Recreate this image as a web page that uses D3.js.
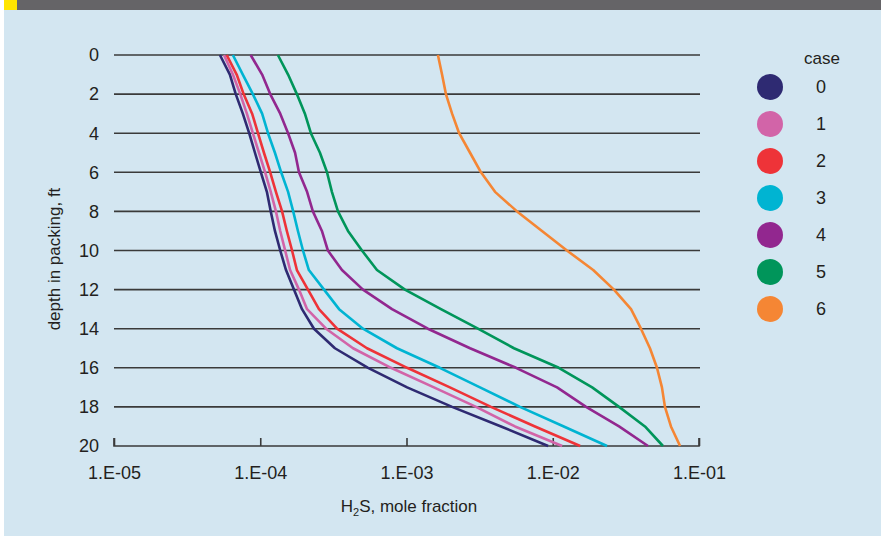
<!DOCTYPE html>
<html lang="en">
  <head>
    <meta charset="UTF-8" />
    <title>H2S in packing</title>
    <script src="https://d3js.org/d3.v7.min.js"></script>
    <style>
      body { margin: 0; background: #ffffff; }
      svg { display: block; font-family: 'Liberation Sans', Arial, sans-serif; }
      .lbl { fill: #231f20; font-size: 18px; }
    </style>
  </head>
  <body>
    <div id="chart"></div>

    <script>
      // depth in packing, ft
      const depths = [0, 1, 2, 3, 4, 5, 6, 7, 8, 9, 10, 11, 12, 13, 14, 15, 16, 17, 18, 19, 20];

      // H2S mole fraction for each case
      const case0 = [5.3e-5, 6.2e-5, 6.8e-5, 7.6e-5, 8.4e-5, 9.2e-5, 1.01e-4, 1.11e-4, 1.18e-4, 1.26e-4, 1.37e-4,
        1.5e-4, 1.7e-4, 1.93e-4, 2.33e-4, 3.24e-4, 5.46e-4, 1.01e-3, 2.05e-3, 4.43e-3, 9.3e-3];
      const case1 = [5.65e-5, 6.5e-5, 7.3e-5, 8.1e-5, 8.9e-5, 9.8e-5, 1.08e-4, 1.18e-4, 1.28e-4, 1.37e-4, 1.48e-4,
        1.6e-4, 1.84e-4, 2.09e-4, 2.82e-4, 4.31e-4, 7.83e-4, 1.54e-3, 2.99e-3, 5.52e-3, 1.16e-2];
      const case2 = [5.9e-5, 6.9e-5, 7.7e-5, 8.8e-5, 9.65e-5, 1.06e-4, 1.17e-4, 1.28e-4, 1.41e-4, 1.52e-4, 1.65e-4,
        1.78e-4, 2.12e-4, 2.52e-4, 3.35e-4, 5.37e-4, 1.01e-3, 1.98e-3, 3.78e-3, 7.56e-3, 1.54e-2];
      const case3 = [6.5e-5, 7.6e-5, 8.9e-5, 1.03e-4, 1.13e-4, 1.26e-4, 1.39e-4, 1.55e-4, 1.68e-4, 1.81e-4, 1.96e-4,
        2.15e-4, 2.73e-4, 3.46e-4, 5.04e-4, 8.61e-4, 1.69e-3, 3.18e-3, 5.97e-3, 1.19e-2, 2.35e-2];
      const case4 = [8.6e-5, 1.03e-4, 1.17e-4, 1.37e-4, 1.55e-4, 1.73e-4, 1.84e-4, 2.09e-4, 2.29e-4, 2.64e-4, 2.9e-4,
        3.62e-4, 5.04e-4, 7.96e-4, 1.4e-3, 2.72e-3, 5.61e-3, 1.07e-2, 1.69e-2, 2.84e-2, 4.48e-2];
      const case5 = [1.32e-4, 1.55e-4, 1.78e-4, 2.02e-4, 2.22e-4, 2.56e-4, 2.86e-4, 3.09e-4, 3.4e-4, 3.98e-4, 4.96e-4,
        6.28e-4, 9.76e-4, 1.72e-3, 3.08e-3, 5.43e-3, 1.1e-2, 1.86e-2, 2.84e-2, 4.27e-2, 5.67e-2];
      const case6 = [1.64e-3, 1.75e-3, 1.86e-3, 2.05e-3, 2.29e-3, 2.72e-3, 3.23e-3, 4.03e-3, 5.7e-3, 8.44e-3, 1.25e-2,
        1.89e-2, 2.62e-2, 3.43e-2, 4.01e-2, 4.62e-2, 5.16e-2, 5.58e-2, 5.85e-2, 6.43e-2, 7.42e-2];

      const series = [case0, case1, case2, case3, case4, case5, case6];
      const caseNames = ['0', '1', '2', '3', '4', '5', '6'];
      const colors = ['#2e2a72', '#d264a8', '#ee3338', '#00b4d2', '#92278f', '#00955a', '#f58634'];

      const depthTicks = [0, 2, 4, 6, 8, 10, 12, 14, 16, 18, 20];
      const xTicks = [1e-5, 1e-4, 1e-3, 1e-2, 1e-1];
      const xTickLabels = ['1.E-05', '1.E-04', '1.E-03', '1.E-02', '1.E-01'];

      const width = 881;
      const height = 538;

      const svg = d3
        .select('#chart')
        .append('svg')
        .attr('width', width)
        .attr('height', height);

      // panel background + header strip
      svg.append('rect').attr('width', width).attr('height', height).attr('fill', '#ffffff');
      svg.append('rect').attr('x', 4).attr('y', 0).attr('width', width - 4).attr('height', height - 2).attr('fill', '#d3e6f1');
      svg.append('rect').attr('x', 17).attr('y', 0).attr('width', width - 17).attr('height', 10).attr('fill', '#656467');
      svg.append('rect').attr('x', 4).attr('y', 0).attr('width', 13).attr('height', 10).attr('fill', '#ffe500');

      const x = d3.scaleLog().domain([1e-5, 1e-1]).range([114, 699]);
      const y = d3.scaleLinear().domain([0, 20]).range([55, 446]);

      // horizontal gridlines
      svg
        .append('g')
        .selectAll('line')
        .data(depthTicks.slice(0, -1))
        .enter()
        .append('line')
        .attr('x1', 114)
        .attr('x2', 700)
        .attr('y1', (d) => y(d))
        .attr('y2', (d) => y(d))
        .attr('stroke', '#3a3a3a')
        .attr('stroke-width', 1.6);

      // bottom axis with upward ticks
      const xAxis = d3
        .axisBottom(x)
        .tickValues(xTicks)
        .tickSize(-8)
        .tickFormat((d, i) => xTickLabels[i]);

      const gx = svg
        .append('g')
        .attr('transform', `translate(0,${y(20)})`)
        .call(xAxis);
      gx.select('.domain').attr('d', `M114,-8V0H699V-8`).attr('stroke', '#3a3a3a').attr('stroke-width', 1.6);
      gx.selectAll('.tick line').attr('stroke', '#3a3a3a').attr('stroke-width', 1.6);
      gx.selectAll('.tick text')
        .attr('class', 'lbl')
        .attr('y', 0)
        .attr('dy', 33)
        .attr('font-family', null)
        .attr('font-size', null);

      // depth labels
      svg
        .append('g')
        .selectAll('text')
        .data(depthTicks)
        .enter()
        .append('text')
        .attr('class', 'lbl')
        .attr('x', 99)
        .attr('y', (d) => y(d))
        .attr('dy', '0.35em')
        .attr('text-anchor', 'end')
        .text((d) => d);

      // curves
      const line = d3
        .line()
        .x((d) => x(d))
        .y((d, i) => y(depths[i]));

      svg
        .append('g')
        .selectAll('path')
        .data(series)
        .enter()
        .append('path')
        .attr('d', (d) => line(d))
        .attr('fill', 'none')
        .attr('stroke', (d, i) => colors[i])
        .attr('stroke-width', 2.6)
        .attr('stroke-linejoin', 'round');

      // axis titles
      const xt = svg
        .append('text')
        .attr('class', 'lbl')
        .attr('x', 409)
        .attr('y', 512)
        .attr('text-anchor', 'middle')
        .style('font-size', '17px');
      xt.append('tspan').text('H');
      xt.append('tspan').attr('dy', 4).style('font-size', '11px').text('2');
      xt.append('tspan').attr('dy', -4).text('S, mole fraction');

      svg
        .append('text')
        .attr('class', 'lbl')
        .attr('transform', 'translate(60,259) rotate(-90)')
        .attr('text-anchor', 'middle')
        .style('font-size', '17px')
        .text('depth in packing, ft');

      // legend
      const legend = svg.append('g');
      legend
        .append('text')
        .attr('class', 'lbl')
        .attr('x', 822)
        .attr('y', 64)
        .attr('text-anchor', 'middle')
        .style('font-size', '17px')
        .text('case');

      const item = legend
        .selectAll('g.item')
        .data(caseNames)
        .enter()
        .append('g')
        .attr('class', 'item')
        .attr('transform', (d, i) => `translate(0,${87 + i * 37})`);

      item
        .append('circle')
        .attr('cx', 770)
        .attr('cy', 0)
        .attr('r', 13)
        .attr('fill', (d, i) => colors[i]);

      item
        .append('text')
        .attr('class', 'lbl')
        .attr('x', 821)
        .attr('y', 0)
        .attr('dy', '0.35em')
        .attr('text-anchor', 'middle')
        .text((d) => d);
    </script>
  </body>
</html>
